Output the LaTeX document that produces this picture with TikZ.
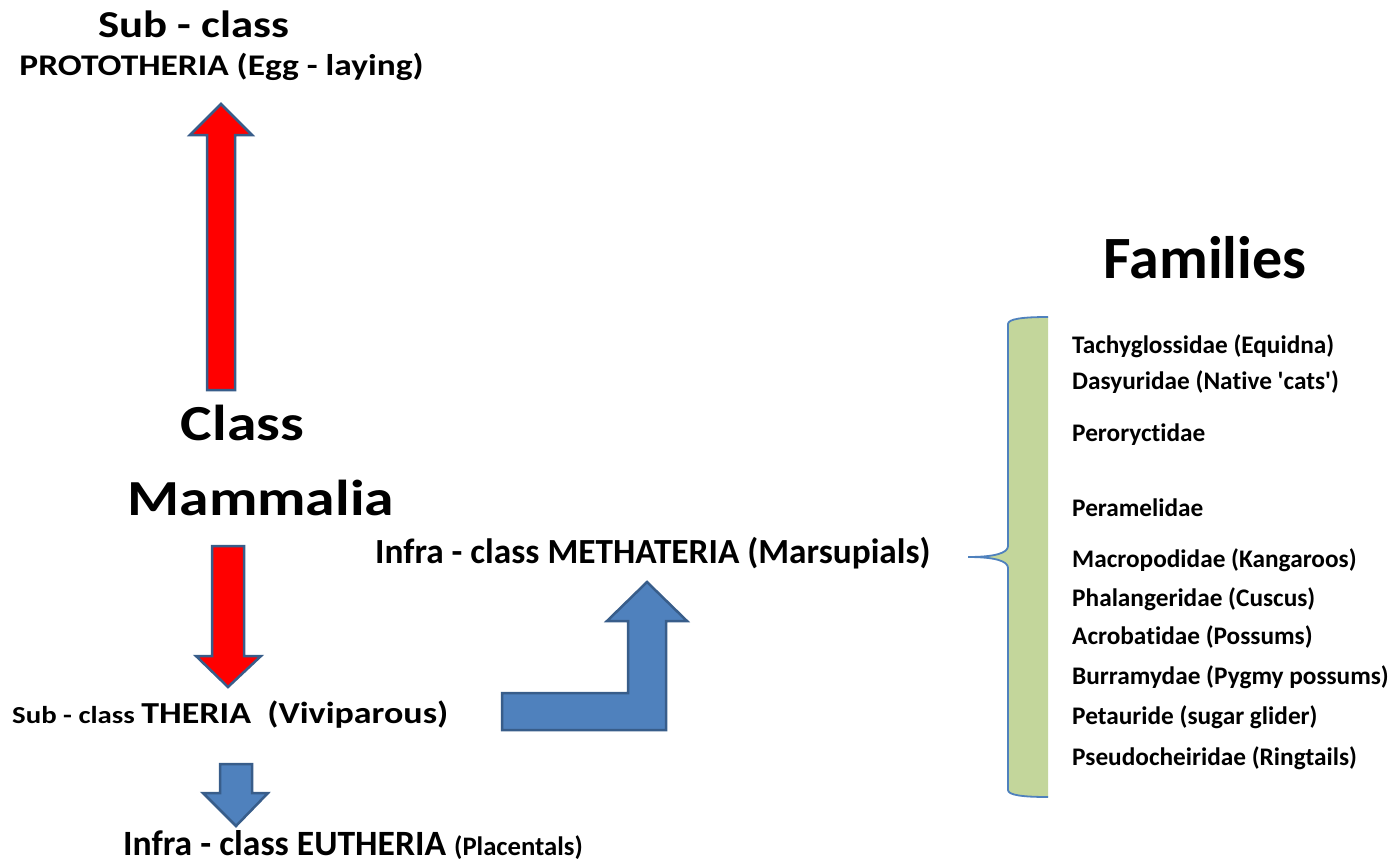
\documentclass[tikz,border=0pt]{standalone}
\usepackage{fontspec}
\setmainfont{Carlito}
\newfontfamily\calfont{Carlito}[Ligatures=NoCommon]
\newfontfamily\calwide{Carlito}[Ligatures=NoCommon, FakeStretch=1.18]
\definecolor{arrowline}{HTML}{385D8A}
\definecolor{bluefill}{HTML}{4F81BD}
\definecolor{bracefill}{HTML}{C3D69B}
\definecolor{braceline}{HTML}{4F81BD}
\newcommand{\fsz}[1]{\fontsize{#1}{#1}\selectfont}
\begin{document}
\begin{tikzpicture}[x=1pt,y=-1pt,
  lbl/.style={inner sep=0pt},
  redarrow/.style={fill=red, draw=arrowline, line width=2.5pt, line join=miter},
  bluearrow/.style={fill=bluefill, draw=arrowline, line width=2.5pt, line join=miter},
  fam/.style={lbl, anchor=base west, font=\calfont\bfseries\fsz{25.3}}]
\useasboundingbox (0,0) rectangle (1393,862);

% texts
\node[lbl, anchor=base, font=\calwide\bfseries\fsz{38}] (subproto) at (194,37) {Sub - class};
\node[lbl, anchor=base, font=\calwide\bfseries\fsz{30}] (proto) at (221.5,75) {PROTOTHERIA (Egg - laying)};
\node[lbl, anchor=base, font=\calwide\bfseries\fsz{50.5}] (class) at (242.5,440) {Class};
\node[lbl, anchor=base, font=\calwide\bfseries\fsz{50.5}] (mammalia) at (260.8,515) {Mammalia};
\node[lbl, anchor=base west, font=\calfont\bfseries\fsz{35.3}] (metha) at (375,563) {Infra - class METHATERIA (Marsupials)};
\node[lbl, anchor=base west, font=\calwide\bfseries] (theria) at (12,723) {\fsz{24.4}Sub - class \fsz{30.5}THERIA\ \ (Viviparous)};
\node[lbl, anchor=base west, font=\calfont\bfseries] (eutheria) at (123,855) {\fsz{35.6}Infra - class EUTHERIA \fsz{26.7}(Placentals)};
\node[lbl, anchor=base, font=\calfont\bfseries\fsz{60}] (families) at (1205,278) {Families};

\node[fam] (f1) at (1072,353) {Tachyglossidae (Equidna)};
\node[fam] (f2) at (1072,389) {Dasyuridae (Native 'cats')};
\node[fam] (f3) at (1072,441) {Peroryctidae};
\node[fam] (f4) at (1072,516) {Peramelidae};
\node[fam] (f5) at (1072,567) {Macropodidae (Kangaroos)};
\node[fam] (f6) at (1072,606) {Phalangeridae (Cuscus)};
\node[fam] (f7) at (1072,644) {Acrobatidae (Possums)};
\node[fam] (f8) at (1072,684) {Burramydae (Pygmy possums)};
\node[fam] (f9) at (1072,724) {Petauride (sugar glider)};
\node[fam] (f10) at (1072,765) {Pseudocheiridae (Ringtails)};

% up red arrow
\draw[redarrow] (207,390) -- (207,135) -- (190,135) -- (221,104) -- (252,135) -- (235,135) -- (235,390) -- cycle;
% down red arrow
\draw[redarrow] (212,546) -- (244,546) -- (244,656) -- (261,656) -- (228,687) -- (196,656) -- (212,656) -- cycle;
% bent blue arrow
\draw[bluearrow] (502,693) -- (628,693) -- (628,621) -- (607,621) -- (647,582) -- (687,621) -- (666,621) -- (666,730) -- (502,730) -- cycle;
% small blue down arrow
\draw[bluearrow] (220,764) -- (252,764) -- (252,793) -- (268,793) -- (236,826) -- (203,793) -- (220,793) -- cycle;

% brace
\fill[bracefill] (1048,317) .. controls (1022,317) and (1008,319) .. (1008,324) -- (1008,546)
  .. controls (1008,553) and (995,557) .. (968,557) .. controls (995,557) and (1008,561) .. (1008,568)
  -- (1008,790) .. controls (1008,795) and (1022,797) .. (1048,797) -- cycle;
\draw[braceline, line width=1.8pt] (1048,317) .. controls (1022,317) and (1008,319) .. (1008,324) -- (1008,546)
  .. controls (1008,553) and (995,557) .. (968,557) .. controls (995,557) and (1008,561) .. (1008,568)
  -- (1008,790) .. controls (1008,795) and (1022,797) .. (1048,797);
\end{tikzpicture}
\end{document}
